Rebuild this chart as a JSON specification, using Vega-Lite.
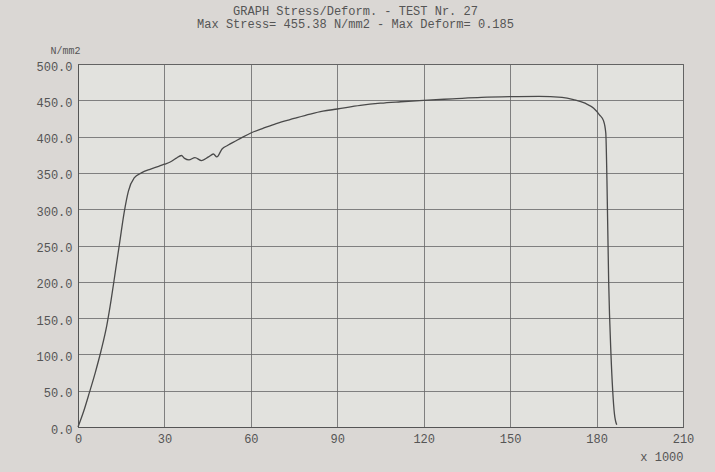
{
  "$schema": "https://vega.github.io/schema/vega-lite/v6.json",
  "width": 605,
  "height": 363,
  "autosize": "none",
  "padding": {"left": 78, "top": 64, "right": 32, "bottom": 45},
  "background": "#dad7d4",
  "title": {
    "text": "GRAPH Stress/Deform.  - TEST Nr.  27",
    "subtitle": "Max Stress= 455.38 N/mm2 - Max Deform=  0.185",
    "anchor": "middle",
    "dx": -25,
    "offset": 14,
    "font": "Liberation Mono",
    "fontSize": 12,
    "fontWeight": "normal",
    "color": "#555555",
    "subtitleFont": "Liberation Mono",
    "subtitleFontSize": 12,
    "subtitleColor": "#555555",
    "subtitlePadding": 1
  },
  "data": {
    "values": [
      {"deform": 0, "stress": 0},
      {"deform": 2, "stress": 22},
      {"deform": 4, "stress": 48},
      {"deform": 6, "stress": 75},
      {"deform": 8, "stress": 105},
      {"deform": 10, "stress": 140},
      {"deform": 11.5, "stress": 175},
      {"deform": 13, "stress": 215},
      {"deform": 14.5, "stress": 255},
      {"deform": 16, "stress": 295},
      {"deform": 17.5, "stress": 325},
      {"deform": 19.5, "stress": 343},
      {"deform": 22, "stress": 350},
      {"deform": 25, "stress": 355},
      {"deform": 28, "stress": 359},
      {"deform": 30, "stress": 362},
      {"deform": 32, "stress": 365},
      {"deform": 34, "stress": 370},
      {"deform": 35.9, "stress": 374},
      {"deform": 37, "stress": 370},
      {"deform": 38.5, "stress": 368},
      {"deform": 40.6, "stress": 371},
      {"deform": 42.9, "stress": 367},
      {"deform": 45.3, "stress": 372},
      {"deform": 47, "stress": 376},
      {"deform": 48.2, "stress": 372},
      {"deform": 50, "stress": 383},
      {"deform": 52, "stress": 388},
      {"deform": 54.7, "stress": 394},
      {"deform": 57, "stress": 399},
      {"deform": 60, "stress": 405},
      {"deform": 64, "stress": 411},
      {"deform": 68.8, "stress": 418},
      {"deform": 75, "stress": 425},
      {"deform": 80.6, "stress": 431},
      {"deform": 85, "stress": 435},
      {"deform": 90, "stress": 438},
      {"deform": 98, "stress": 443},
      {"deform": 105, "stress": 446},
      {"deform": 112, "stress": 448},
      {"deform": 120, "stress": 450},
      {"deform": 130, "stress": 452},
      {"deform": 140, "stress": 454},
      {"deform": 150, "stress": 455},
      {"deform": 160, "stress": 455.4},
      {"deform": 168, "stress": 454},
      {"deform": 172, "stress": 451},
      {"deform": 176, "stress": 446},
      {"deform": 179, "stress": 439},
      {"deform": 181, "stress": 430},
      {"deform": 182.4, "stress": 422},
      {"deform": 183.2, "stress": 405},
      {"deform": 183.6, "stress": 340},
      {"deform": 184.2, "stress": 200},
      {"deform": 185, "stress": 100},
      {"deform": 185.6, "stress": 50},
      {"deform": 186.2, "stress": 18},
      {"deform": 187, "stress": 3}
    ]
  },
  "layer": [
    {
      "mark": {"type": "line", "color": "#4a4a4a", "strokeWidth": 1.3, "interpolate": "monotone"},
      "encoding": {
        "x": {
          "field": "deform",
          "type": "quantitative",
          "scale": {"domain": [0, 210], "nice": false},
          "axis": {
            "title": "x 1000",
            "titleAnchor": "end",
            "titleAlign": "right",
            "titleFont": "Liberation Mono",
            "titleFontSize": 12,
            "titleFontWeight": "normal",
            "titleColor": "#555555",
            "titlePadding": 7,
            "values": [0, 30, 60, 90, 120, 150, 180, 210],
            "labelFont": "Liberation Mono",
            "labelFontSize": 12,
            "labelColor": "#555555",
            "labelPadding": 6,
            "ticks": false,
            "domainColor": "#555555",
            "gridColor": "#666666",
            "gridOpacity": 0.8,
            "labelFlush": false
          }
        },
        "y": {
          "field": "stress",
          "type": "quantitative",
          "scale": {"domain": [0, 500], "nice": false},
          "axis": {
            "title": "N/mm2",
            "titleAngle": 0,
            "titleAnchor": "end",
            "titleAlign": "right",
            "titleBaseline": "bottom",
            "titleX": 2,
            "titleY": -9,
            "titleFont": "Liberation Mono",
            "titleFontSize": 10,
            "titleFontWeight": "normal",
            "titleColor": "#555555",
            "values": [0, 50, 100, 150, 200, 250, 300, 350, 400, 450, 500],
            "format": ".1f",
            "labelFont": "Liberation Mono",
            "labelFontSize": 12,
            "labelColor": "#555555",
            "labelPadding": 6,
            "labelBaseline": "top",
            "labelOffset": -3,
            "ticks": false,
            "domainColor": "#555555",
            "gridColor": "#666666",
            "gridOpacity": 0.8
          }
        }
      }
    }
  ],
  "config": {
    "view": {"stroke": "#555555", "fill": "#e2e2de"}
  }
}
